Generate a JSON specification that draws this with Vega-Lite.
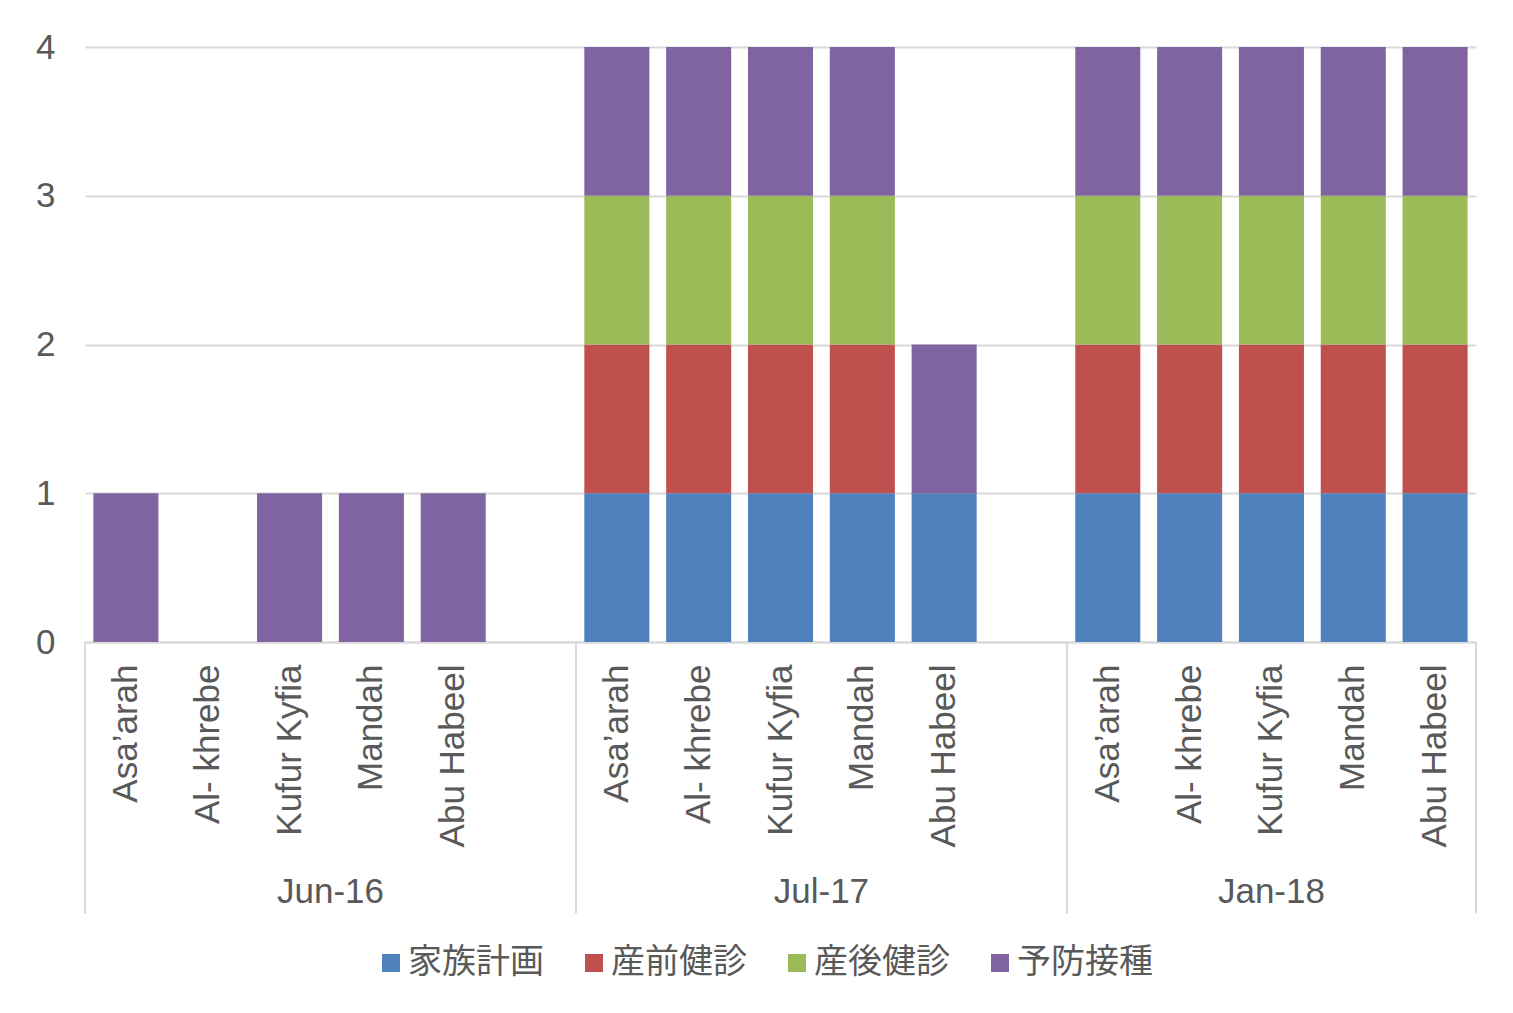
{
  "$schema": "https://vega.github.io/schema/vega-lite/v6.json",
  "autosize": "none",
  "width": 1391,
  "height": 595,
  "padding": {"left": 85, "top": 47, "right": 37, "bottom": 371},
  "background": "white",
  "config": {
    "view": {"stroke": null},
    "font": "Liberation Sans",
    "axis": {"labelColor": "#595959", "labelFont": "Liberation Sans"}
  },
  "data": {
    "values": [
      {"period": "Jun-16", "village": "Asa’arah", "service": "予防接種", "count": 1},
      {"period": "Jun-16", "village": "Al- khrebe", "service": "予防接種", "count": 0},
      {"period": "Jun-16", "village": "Kufur Kyfia", "service": "予防接種", "count": 1},
      {"period": "Jun-16", "village": "Mandah", "service": "予防接種", "count": 1},
      {"period": "Jun-16", "village": "Abu Habeel", "service": "予防接種", "count": 1},

      {"period": "Jul-17", "village": "Asa’arah", "service": "家族計画", "count": 1},
      {"period": "Jul-17", "village": "Asa’arah", "service": "産前健診", "count": 1},
      {"period": "Jul-17", "village": "Asa’arah", "service": "産後健診", "count": 1},
      {"period": "Jul-17", "village": "Asa’arah", "service": "予防接種", "count": 1},
      {"period": "Jul-17", "village": "Al- khrebe", "service": "家族計画", "count": 1},
      {"period": "Jul-17", "village": "Al- khrebe", "service": "産前健診", "count": 1},
      {"period": "Jul-17", "village": "Al- khrebe", "service": "産後健診", "count": 1},
      {"period": "Jul-17", "village": "Al- khrebe", "service": "予防接種", "count": 1},
      {"period": "Jul-17", "village": "Kufur Kyfia", "service": "家族計画", "count": 1},
      {"period": "Jul-17", "village": "Kufur Kyfia", "service": "産前健診", "count": 1},
      {"period": "Jul-17", "village": "Kufur Kyfia", "service": "産後健診", "count": 1},
      {"period": "Jul-17", "village": "Kufur Kyfia", "service": "予防接種", "count": 1},
      {"period": "Jul-17", "village": "Mandah", "service": "家族計画", "count": 1},
      {"period": "Jul-17", "village": "Mandah", "service": "産前健診", "count": 1},
      {"period": "Jul-17", "village": "Mandah", "service": "産後健診", "count": 1},
      {"period": "Jul-17", "village": "Mandah", "service": "予防接種", "count": 1},
      {"period": "Jul-17", "village": "Abu Habeel", "service": "家族計画", "count": 1},
      {"period": "Jul-17", "village": "Abu Habeel", "service": "予防接種", "count": 1},

      {"period": "Jan-18", "village": "Asa’arah", "service": "家族計画", "count": 1},
      {"period": "Jan-18", "village": "Asa’arah", "service": "産前健診", "count": 1},
      {"period": "Jan-18", "village": "Asa’arah", "service": "産後健診", "count": 1},
      {"period": "Jan-18", "village": "Asa’arah", "service": "予防接種", "count": 1},
      {"period": "Jan-18", "village": "Al- khrebe", "service": "家族計画", "count": 1},
      {"period": "Jan-18", "village": "Al- khrebe", "service": "産前健診", "count": 1},
      {"period": "Jan-18", "village": "Al- khrebe", "service": "産後健診", "count": 1},
      {"period": "Jan-18", "village": "Al- khrebe", "service": "予防接種", "count": 1},
      {"period": "Jan-18", "village": "Kufur Kyfia", "service": "家族計画", "count": 1},
      {"period": "Jan-18", "village": "Kufur Kyfia", "service": "産前健診", "count": 1},
      {"period": "Jan-18", "village": "Kufur Kyfia", "service": "産後健診", "count": 1},
      {"period": "Jan-18", "village": "Kufur Kyfia", "service": "予防接種", "count": 1},
      {"period": "Jan-18", "village": "Mandah", "service": "家族計画", "count": 1},
      {"period": "Jan-18", "village": "Mandah", "service": "産前健診", "count": 1},
      {"period": "Jan-18", "village": "Mandah", "service": "産後健診", "count": 1},
      {"period": "Jan-18", "village": "Mandah", "service": "予防接種", "count": 1},
      {"period": "Jan-18", "village": "Abu Habeel", "service": "家族計画", "count": 1},
      {"period": "Jan-18", "village": "Abu Habeel", "service": "産前健診", "count": 1},
      {"period": "Jan-18", "village": "Abu Habeel", "service": "産後健診", "count": 1},
      {"period": "Jan-18", "village": "Abu Habeel", "service": "予防接種", "count": 1}
    ]
  },
  "transform": [
    {"calculate": "datum.period + '|' + datum.village", "as": "key"},
    {"calculate": "indexof(['家族計画','産前健診','産後健診','予防接種'], datum.service)", "as": "stackOrder"}
  ],
  "encoding": {
    "x": {
      "field": "key",
      "type": "nominal",
      "scale": {
        "domain": [
          "Jun-16|Asa’arah", "Jun-16|Al- khrebe", "Jun-16|Kufur Kyfia", "Jun-16|Mandah", "Jun-16|Abu Habeel", "Jun-16|",
          "Jul-17|Asa’arah", "Jul-17|Al- khrebe", "Jul-17|Kufur Kyfia", "Jul-17|Mandah", "Jul-17|Abu Habeel", "Jul-17|",
          "Jan-18|Asa’arah", "Jan-18|Al- khrebe", "Jan-18|Kufur Kyfia", "Jan-18|Mandah", "Jan-18|Abu Habeel"
        ],
        "paddingInner": 0,
        "paddingOuter": 0
      },
      "axis": {
        "title": null,
        "labelExpr": "split(datum.value, '|')[1]",
        "labelAngle": -90,
        "labelFontSize": 35,
        "labelPadding": 22,
        "labelLimit": 0,
        "ticks": false,
        "grid": false,
        "domain": true,
        "domainColor": "#d9d9d9",
        "domainWidth": 2
      }
    }
  },
  "layer": [
    {
      "mark": {"type": "bar", "width": {"band": 0.795}},
      "encoding": {
        "y": {
          "field": "count",
          "type": "quantitative",
          "stack": "zero",
          "scale": {"domain": [0, 4], "nice": false},
          "axis": {
            "title": null,
            "values": [0, 1, 2, 3, 4],
            "format": "d",
            "grid": true,
            "gridColor": "#d9d9d9",
            "gridWidth": 2,
            "domain": false,
            "ticks": false,
            "labelFontSize": 35,
            "labelPadding": 30
          }
        },
        "color": {
          "field": "service",
          "type": "nominal",
          "scale": {
            "domain": ["家族計画", "産前健診", "産後健診", "予防接種"],
            "range": ["#4f81bd", "#c0504d", "#9bbb59", "#8064a2"]
          },
          "legend": {
            "title": null,
            "orient": "none",
            "legendX": 289,
            "legendY": 899,
            "direction": "horizontal",
            "symbolType": "square",
            "symbolSize": 324,
            "symbolStrokeWidth": 0,
            "labelFont": "Noto Sans CJK JP",
            "labelFontSize": 34,
            "labelColor": "#595959",
            "labelOffset": 0,
            "columnPadding": 33
          }
        },
        "order": {"field": "stackOrder", "type": "quantitative"}
      }
    },
    {
      "transform": [{"filter": "datum.village == 'Asa’arah' && datum.service == '予防接種'"}],
      "mark": {"type": "rule", "color": "#d9d9d9", "strokeWidth": 2},
      "encoding": {
        "x": {"field": "key", "type": "nominal", "bandPosition": 0},
        "y": {"datum": 0, "type": "quantitative"},
        "y2": {"datum": -1.825}
      }
    },
    {
      "transform": [{"filter": "datum.period == 'Jan-18' && datum.village == 'Abu Habeel' && datum.service == '予防接種'"}],
      "mark": {"type": "rule", "color": "#d9d9d9", "strokeWidth": 2},
      "encoding": {
        "x": {"field": "key", "type": "nominal", "bandPosition": 1},
        "y": {"datum": 0, "type": "quantitative"},
        "y2": {"datum": -1.825}
      }
    },
    {
      "transform": [{"filter": "datum.period != 'Jan-18' && datum.village == 'Mandah' && datum.service == '予防接種'"}],
      "mark": {"type": "text", "fontSize": 35, "color": "#595959", "font": "Liberation Sans", "baseline": "middle", "align": "center"},
      "encoding": {
        "x": {"field": "key", "type": "nominal", "bandPosition": 0},
        "y": {"datum": -1.684, "type": "quantitative"},
        "text": {"field": "period"}
      }
    },
    {
      "transform": [{"filter": "datum.period == 'Jan-18' && datum.village == 'Kufur Kyfia' && datum.service == '予防接種'"}],
      "mark": {"type": "text", "fontSize": 35, "color": "#595959", "font": "Liberation Sans", "baseline": "middle", "align": "center"},
      "encoding": {
        "x": {"field": "key", "type": "nominal", "bandPosition": 0.5},
        "y": {"datum": -1.684, "type": "quantitative"},
        "text": {"field": "period"}
      }
    }
  ]
}
